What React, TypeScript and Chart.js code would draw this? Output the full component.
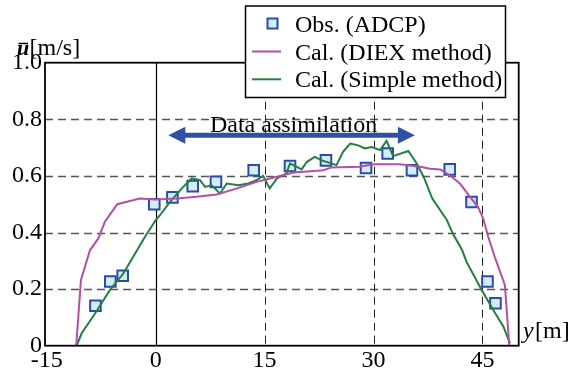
import React, { useEffect, useRef } from "react";
import { Chart, registerables } from "chart.js";

Chart.register(...registerables);

// ---- data ----
const obsX = [-8.3, -6.25, -4.55, -0.2, 2.3, 5.1, 8.3, 13.5, 18.5, 23.45, 28.97, 31.95, 35.3, 40.5, 43.5, 45.7, 46.8];
const obsY = [0.141, 0.227, 0.247, 0.5, 0.524, 0.564, 0.579, 0.62, 0.635, 0.655, 0.628, 0.679, 0.62, 0.623, 0.508, 0.227, 0.15];

const diexX = [-10.95, -10.3, -9.05, -7.9, -7.0, -5.3, -2.2, 0, 2.9, 5.6, 8.4, 11.2, 13.9, 16.7, 19.0, 23.1, 24.2, 28.1, 30.0, 33.6, 36.4, 37.8, 39.2, 40.5, 41.9, 43.3, 44.4, 45.1, 45.8, 46.7, 48.1, 48.7];
const diexY = [0, 0.232, 0.338, 0.379, 0.438, 0.5, 0.52, 0.517, 0.52, 0.526, 0.534, 0.556, 0.579, 0.597, 0.612, 0.62, 0.63, 0.632, 0.641, 0.641, 0.632, 0.625, 0.623, 0.602, 0.573, 0.526, 0.49, 0.45, 0.385, 0.314, 0.214, 0];

const simpleX = [-10.9, -10.2, -8.36, -6.3, -4.46, -3.1, -1.47, 0, 0.59, 1.97, 3.6, 4.27, 4.96, 6.1, 6.8, 7.7, 8.86, 9.78, 11.4, 12.75, 13.9, 14.8, 15.7, 16.7, 18.0, 18.5, 20.1, 20.8, 21.9, 22.9, 24.9, 25.8, 26.8, 27.9, 28.8, 29.75, 30.9, 31.8, 32.7, 34.8, 35.95, 36.9, 38.1, 40.1, 40.9, 42.2, 42.8, 44.9, 46.5, 47.9, 48.8];
const simpleY = [0, 0.044, 0.114, 0.197, 0.255, 0.314, 0.385, 0.444, 0.461, 0.508, 0.556, 0.573, 0.591, 0.585, 0.561, 0.567, 0.538, 0.573, 0.567, 0.573, 0.585, 0.6, 0.556, 0.591, 0.609, 0.644, 0.623, 0.649, 0.667, 0.655, 0.638, 0.685, 0.714, 0.708, 0.697, 0.702, 0.691, 0.724, 0.67, 0.688, 0.644, 0.597, 0.52, 0.444, 0.397, 0.338, 0.297, 0.197, 0.126, 0.067, 0.008];

const xTicks = [-15, 0, 15, 30, 45];
const yTicks = [0, 0.2, 0.4, 0.6, 0.8, 1.0];
const hGrid = [0.2, 0.4, 0.6, 0.8];
const vGrid = [15, 30, 45];

const legendLabels = ["Obs. (ADCP)", "Cal. (DIEX method)", "Cal. (Simple method)"];
const annotationText = "Data assimilation";
const arrowRange = [1.74, 35.7];
const arrowLevel = 0.744;

const FONT = "'Liberation Serif', 'Times New Roman', serif";
const OBS_FILL = "#d2eef2";
const OBS_EDGE = "#2c4ca8";
const DIEX_COLOR = "#b54ea8";
const SIMPLE_COLOR = "#1f8040";
const ARROW_COLOR = "#2f50a6";

const toPts = (xs: number[], ys: number[]) => xs.map((x, i) => ({ x, y: ys[i] }));

const decor = {
  id: "decor",
  beforeDatasetsDraw(chart: any) {
    const { ctx, chartArea: a, scales } = chart;
    const x = scales.x, y = scales.y;
    ctx.save();
    ctx.setLineDash([8, 5]);
    ctx.strokeStyle = "#555";
    ctx.lineWidth = 1.5;
    hGrid.forEach((v) => {
      const py = Math.round(y.getPixelForValue(v)) + 0.5;
      ctx.beginPath(); ctx.moveTo(a.left, py); ctx.lineTo(a.right, py); ctx.stroke();
    });
    ctx.strokeStyle = "#222";
    ctx.lineWidth = 1;
    vGrid.forEach((v) => {
      const px = Math.round(x.getPixelForValue(v)) + 0.5;
      ctx.beginPath(); ctx.moveTo(px, a.top); ctx.lineTo(px, a.bottom); ctx.stroke();
    });
    ctx.setLineDash([]);
    ctx.strokeStyle = "#000";
    ctx.lineWidth = 1.2;
    const p0 = Math.round(x.getPixelForValue(0)) + 0.5;
    ctx.beginPath(); ctx.moveTo(p0, a.top); ctx.lineTo(p0, a.bottom); ctx.stroke();
    ctx.restore();
  },
  afterDatasetsDraw(chart: any) {
    const { ctx, chartArea: a, scales } = chart;
    const x = scales.x, y = scales.y;
    ctx.save();
    // frame
    ctx.strokeStyle = "#000";
    ctx.lineWidth = 1.8;
    ctx.strokeRect(a.left, a.top, a.right - a.left, a.bottom - a.top);

    // arrow
    const ax1 = x.getPixelForValue(arrowRange[0]);
    const ax2 = x.getPixelForValue(arrowRange[1]);
    const ay = y.getPixelForValue(arrowLevel);
    ctx.fillStyle = ARROW_COLOR;
    ctx.strokeStyle = ARROW_COLOR;
    ctx.lineWidth = 5;
    ctx.beginPath(); ctx.moveTo(ax1 + 12, ay); ctx.lineTo(ax2 - 12, ay); ctx.stroke();
    ctx.beginPath(); ctx.moveTo(ax1, ay); ctx.lineTo(ax1 + 17, ay - 8.5); ctx.lineTo(ax1 + 17, ay + 8.5); ctx.closePath(); ctx.fill();
    ctx.beginPath(); ctx.moveTo(ax2, ay); ctx.lineTo(ax2 - 17, ay - 8.5); ctx.lineTo(ax2 - 17, ay + 8.5); ctx.closePath(); ctx.fill();

    ctx.fillStyle = "#000";
    ctx.font = `24px ${FONT}`;
    ctx.textAlign = "center";
    ctx.textBaseline = "alphabetic";
    ctx.fillText(annotationText, (ax1 + ax2) / 2 + 2, ay - 3);

    // axis titles
    ctx.textAlign = "left";
    ctx.font = `italic bold 22px ${FONT}`;
    ctx.fillText("u", 17, 55);
    ctx.lineWidth = 1.5;
    ctx.strokeStyle = "#000";
    ctx.beginPath(); ctx.moveTo(18.5, 43.5); ctx.lineTo(28, 43.5); ctx.stroke();
    ctx.font = `24px ${FONT}`;
    ctx.fillText("[m/s]", 29.5, 55);
    ctx.font = `italic 24px ${FONT}`;
    ctx.fillText("y", 523, 338);
    ctx.font = `24px ${FONT}`;
    ctx.fillText("[m]", 535, 338);

    // legend
    const lx = 245.5, ly = 6, lw = 260, lh = 91.5;
    ctx.fillStyle = "#fff";
    ctx.fillRect(lx, ly, lw, lh);
    ctx.strokeStyle = "#000";
    ctx.lineWidth = 1.5;
    ctx.strokeRect(lx, ly, lw, lh);
    const rows = [23.5, 51.5, 79.3];
    ctx.fillStyle = OBS_FILL;
    ctx.strokeStyle = OBS_EDGE;
    ctx.lineWidth = 2;
    ctx.fillRect(267.5, rows[0] - 5, 10, 10);
    ctx.strokeRect(267.5, rows[0] - 5, 10, 10);
    ctx.lineWidth = 2;
    ctx.strokeStyle = DIEX_COLOR;
    ctx.beginPath(); ctx.moveTo(252, rows[1]); ctx.lineTo(281, rows[1]); ctx.stroke();
    ctx.strokeStyle = SIMPLE_COLOR;
    ctx.beginPath(); ctx.moveTo(252, rows[2]); ctx.lineTo(281, rows[2]); ctx.stroke();
    ctx.fillStyle = "#000";
    ctx.font = `24px ${FONT}`;
    ctx.textAlign = "left";
    ctx.textBaseline = "alphabetic";
    legendLabels.forEach((t, i) => ctx.fillText(t, 295, rows[i] + 8));
    ctx.restore();
  },
};

export default function App() {
  const ref = useRef<HTMLCanvasElement | null>(null);
  useEffect(() => {
    if (!ref.current) return;
    const chart = new Chart(ref.current, {
      type: "scatter",
      data: {
        datasets: [
          {
            label: legendLabels[1],
            data: toPts(diexX, diexY),
            showLine: true,
            borderColor: DIEX_COLOR,
            borderWidth: 2,
            pointRadius: 0,
            tension: 0,
          },
          {
            label: legendLabels[2],
            data: toPts(simpleX, simpleY),
            showLine: true,
            borderColor: SIMPLE_COLOR,
            borderWidth: 2,
            pointRadius: 0,
            tension: 0,
          },
          {
            label: legendLabels[0],
            data: toPts(obsX, obsY),
            showLine: false,
            pointStyle: "rect",
            pointRadius: 7.5,
            backgroundColor: OBS_FILL,
            borderColor: OBS_EDGE,
            borderWidth: 2,
          },
        ],
      },
      options: {
        animation: false,
        responsive: false,
        maintainAspectRatio: false,
        layout: { padding: { left: 0, top: 62.7, right: 62.3, bottom: 0 } },
        plugins: { legend: { display: false }, tooltip: { enabled: false } },
        scales: {
          x: {
            type: "linear",
            min: -15.25,
            max: 50,
            grid: { display: false, drawTicks: false },
            border: { display: false },
            ticks: {
              font: { family: FONT, size: 24 },
              color: "#000",
              padding: 1,
              maxRotation: 0,
              autoSkip: false,
            },
            afterBuildTicks: (s: any) => { s.ticks = xTicks.map((v) => ({ value: v })); },
            afterFit: (s: any) => { s.height = 27.3; },
          },
          y: {
            type: "linear",
            min: 0,
            max: 1,
            grid: { display: false, drawTicks: false },
            border: { display: false },
            ticks: {
              font: { family: FONT, size: 24 },
              color: "#000",
              padding: 3,
              autoSkip: false,
              callback: (v: any) => (Number(v) === 0 ? "0" : Number(v).toFixed(1)),
            },
            afterBuildTicks: (s: any) => { s.ticks = yTicks.map((v) => ({ value: v })); },
            afterFit: (s: any) => { s.width = 45; },
          },
        },
      },
      plugins: [decor],
    });
    return () => chart.destroy();
  }, []);
  return (
    <div style={{ position: "fixed", left: 0, top: 0, width: 581, height: 373, background: "#fff" }}>
      <canvas ref={ref} width={581} height={373} style={{ display: "block", width: 581, height: 373 }} />
    </div>
  );
}
